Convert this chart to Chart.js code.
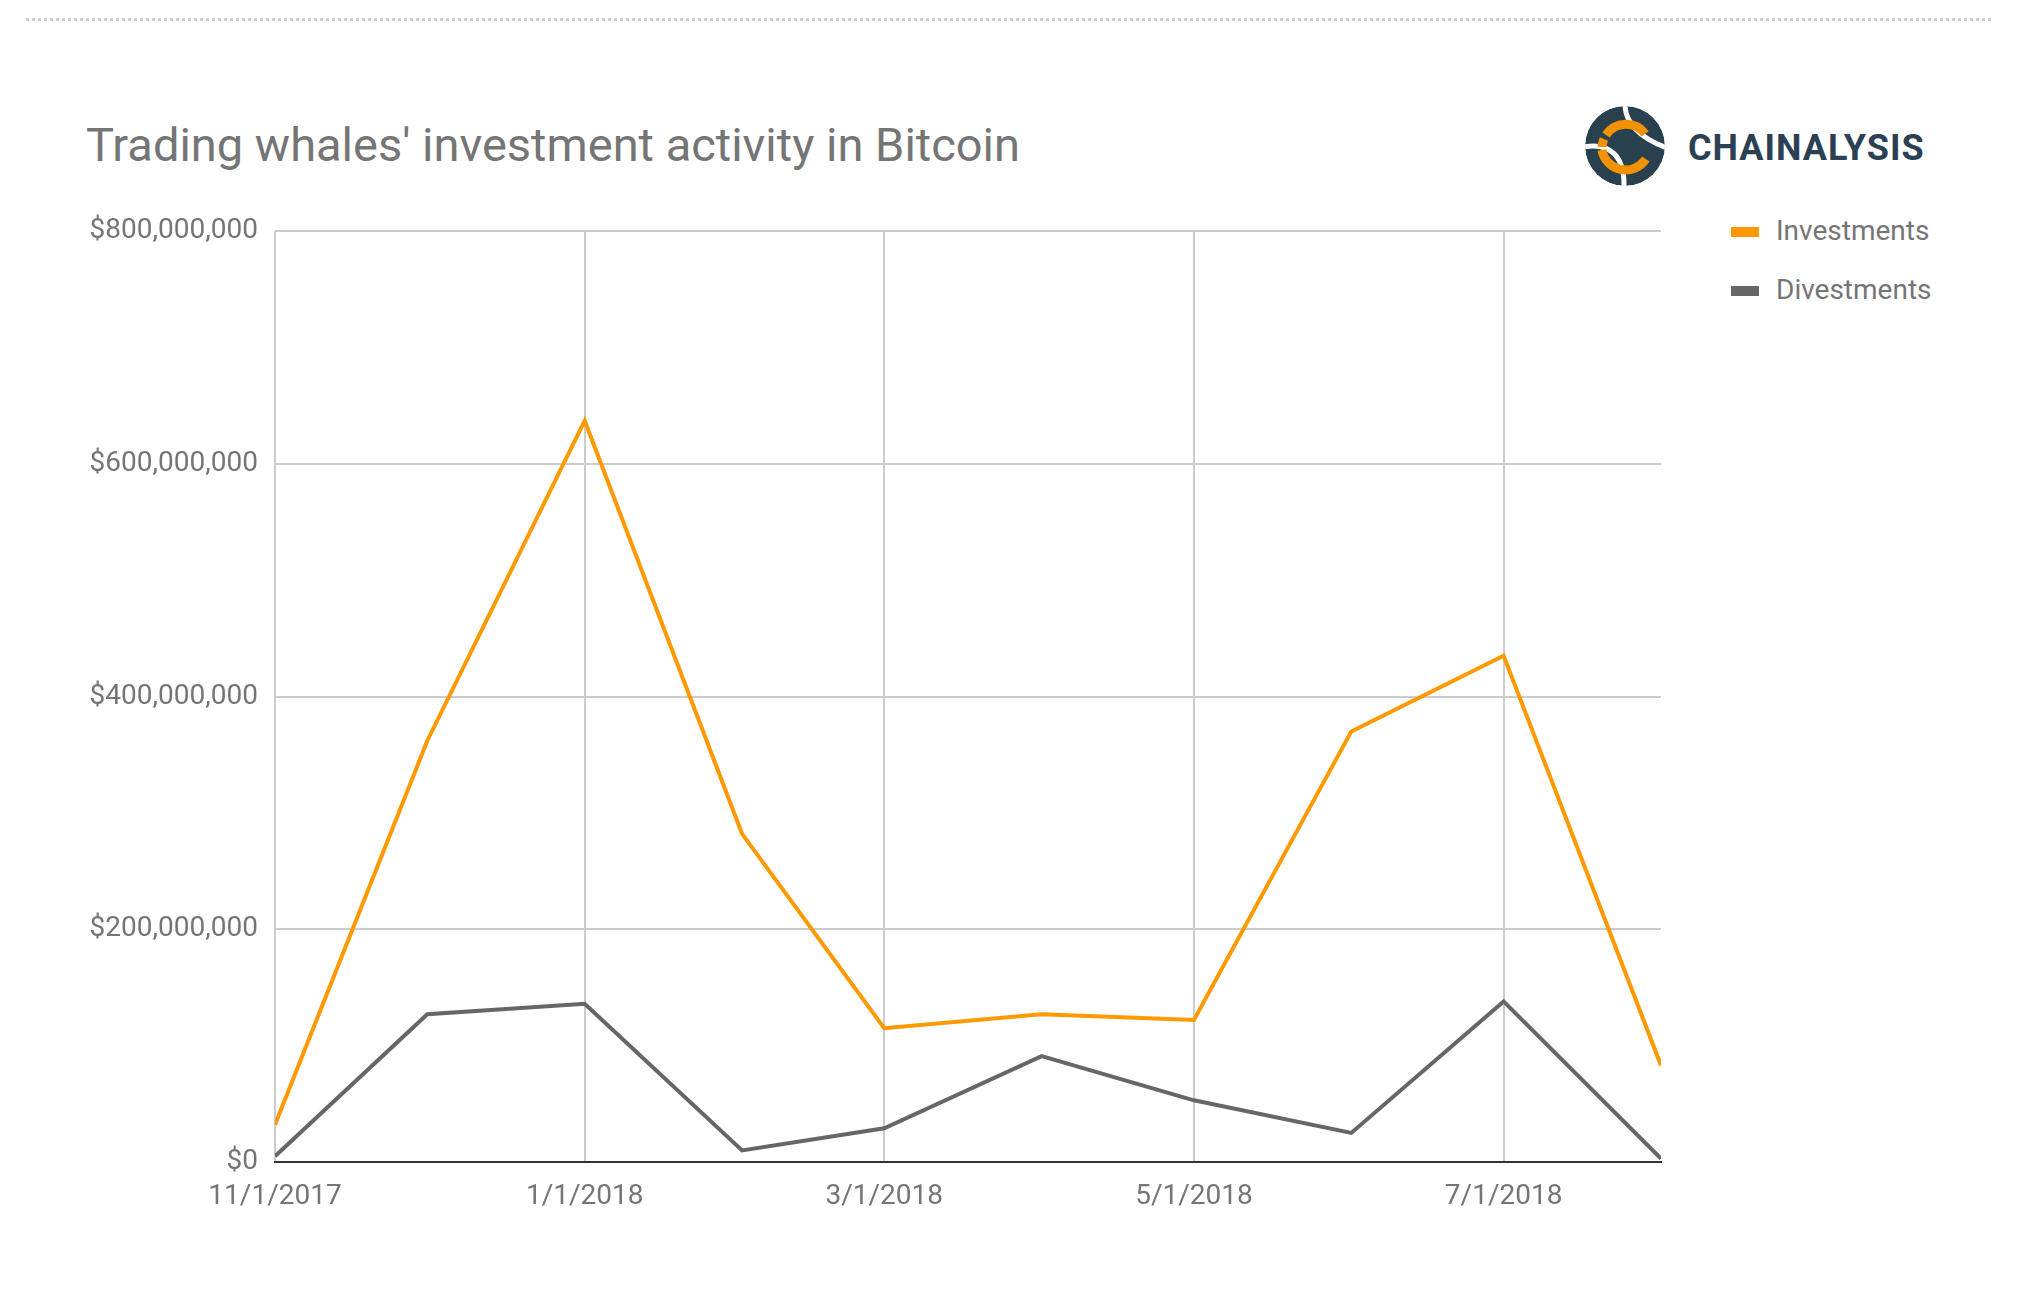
<!DOCTYPE html>
<html>
<head>
<meta charset="utf-8">
<script src="https://cdn.jsdelivr.net/npm/chart.js@4.4.1/dist/chart.umd.min.js"></script>
<style>
  body { margin: 0; background: #fff; font-family: Roboto, sans-serif; }
  #wrap { position: relative; width: 2024px; height: 1293px; overflow: hidden; }
  #myChart { position: absolute; left: 0; top: 0; }
  .dots { position: absolute; left: 26px; top: 18px; width: 1968px; height: 3px;
    background: repeating-linear-gradient(to right, #cfcfcf 0 3px, transparent 3px 6px); }
  #title { position: absolute; left: 86px; top: 116px; font-size: 47px; color: #757575;
    white-space: nowrap; line-height: 58px; }
  #logo { position: absolute; left: 1585px; top: 106px; width: 80px; height: 80px; }
  #brand { position: absolute; left: 1688px; top: 126px; font-size: 36px; font-weight: bold;
    color: #2b4153; letter-spacing: 1px; line-height: 44px; }
  .leg { position: absolute; left: 1731px; font-size: 28px; color: #757575; white-space: nowrap; }
  .leg span.sw { position: absolute; left: 0; width: 28px; height: 10px; }
  .leg span.tx { position: absolute; left: 45px; line-height: 34px; }
</style>
</head>
<body>
<div id="wrap">
  <div class="dots"></div>
  <div id="title">Trading whales' investment activity in Bitcoin</div>
  <svg id="logo" viewBox="0 0 80 80">
    <defs><clipPath id="c"><circle cx="40" cy="40" r="40"/></clipPath></defs>
    <g clip-path="url(#c)">
      <circle cx="40" cy="40" r="40" fill="#29404f"/>
      <path d="M40 -2 C40 14 50 30 82 42" fill="none" stroke="#fff" stroke-width="5"/>
      <path d="M-2 41 C25 36 40 50 39 82" fill="none" stroke="#fff" stroke-width="5"/>
      <path d="M60.1 27.9 A24 24 0 0 0 21 29" fill="none" stroke="#f39200" stroke-width="9"/>
      <path d="M17 44 A24 24 0 0 0 60.8 53" fill="none" stroke="#f39200" stroke-width="9"/>
      <path d="M19 33 A24 24 0 0 0 17 41" fill="none" stroke="#f39200" stroke-width="9"/>
    </g>
  </svg>
  <div id="brand">CHAINALYSIS</div>
  <div id="legend"></div>
  <canvas id="myChart" width="2024" height="1293"></canvas>
</div>
<script>
// monthly figures, USD
const months = ['2017-11-01', '2017-12-01', '2018-01-01', '2018-02-01', '2018-03-01',
                '2018-04-01', '2018-05-01', '2018-06-01', '2018-07-01', '2018-08-01']
const investments = [32e6, 362e6, 637e6, 282e6, 115e6, 127e6, 122e6, 370e6, 435e6, 83e6]
const divestments = [5e6, 127e6, 136e6, 10e6, 29e6, 91e6, 53e6, 25e6, 138e6, 3e6]
const xTickDates = ['2017-11-01', '2018-01-01', '2018-03-01', '2018-05-01', '2018-07-01']
const yTicks = [0, 200e6, 400e6, 600e6, 800e6]

const seriesNames = ['Investments', 'Divestments']
const seriesColors = ['#ff9900', '#666666']

let ctx = document.getElementById('myChart').getContext('2d')

function toPoints(values){
  return values.map((v, i) => ({ x: Date.parse(months[i]), y: v }))
}

function fmtDate(ts){
  let d = new Date(ts)
  return (d.getUTCMonth() + 1) + '/' + d.getUTCDate() + '/' + d.getUTCFullYear()
}

const config = {
  type: 'line',
  data: {
    datasets: [{
      label: seriesNames[0],
      data: toPoints(investments),
      borderColor: seriesColors[0],
      backgroundColor: seriesColors[0],
      borderWidth: 4,
      pointRadius: 0,
      tension: 0
    }, {
      label: seriesNames[1],
      data: toPoints(divestments),
      borderColor: seriesColors[1],
      backgroundColor: seriesColors[1],
      borderWidth: 4,
      pointRadius: 0,
      tension: 0
    }]
  },
  options: {
    responsive: false,
    animation: false,
    layout: { padding: { top: 231, right: 363, left: 0, bottom: 0 } },
    plugins: { legend: { display: false }, tooltip: { enabled: false } },
    scales: {
      x: {
        type: 'linear',
        min: Date.parse(months[0]),
        max: Date.parse(months[months.length - 1]),
        afterBuildTicks: (scale) => { scale.ticks = xTickDates.map(d => ({ value: Date.parse(d) })) },
        afterFit: (scale) => { scale.height = 131 },
        grid: { color: '#cccccc', lineWidth: 2, drawTicks: false },
        border: { color: '#333333', width: 2 },
        ticks: {
          padding: 18,
          color: '#757575',
          font: { family: 'Roboto', size: 28 },
          maxRotation: 0,
          autoSkip: false,
          callback: (v) => fmtDate(v)
        }
      },
      y: {
        min: 0,
        max: 800e6,
        afterBuildTicks: (scale) => { scale.ticks = yTicks.map(v => ({ value: v })) },
        afterFit: (scale) => { scale.width = 275 },
        grid: { color: '#cccccc', lineWidth: 2, drawTicks: false },
        border: { display: false },
        ticks: {
          padding: 17,
          color: '#757575',
          font: { family: 'Roboto', size: 28 },
          callback: (v) => '$' + v.toLocaleString('en-US')
        }
      }
    }
  }
}

let myChart = new Chart(ctx, config)

// html legend from the datasets
let legend = document.getElementById('legend')
myChart.data.datasets.forEach((ds, i) => {
  let item = document.createElement('div')
  item.className = 'leg'
  item.style.top = (214 + i * 59) + 'px'
  item.innerHTML = '<span class="sw" style="top:13px;background:' + ds.borderColor + '"></span>' +
                   '<span class="tx">' + ds.label + '</span>'
  legend.appendChild(item)
})
</script>
</body>
</html>
